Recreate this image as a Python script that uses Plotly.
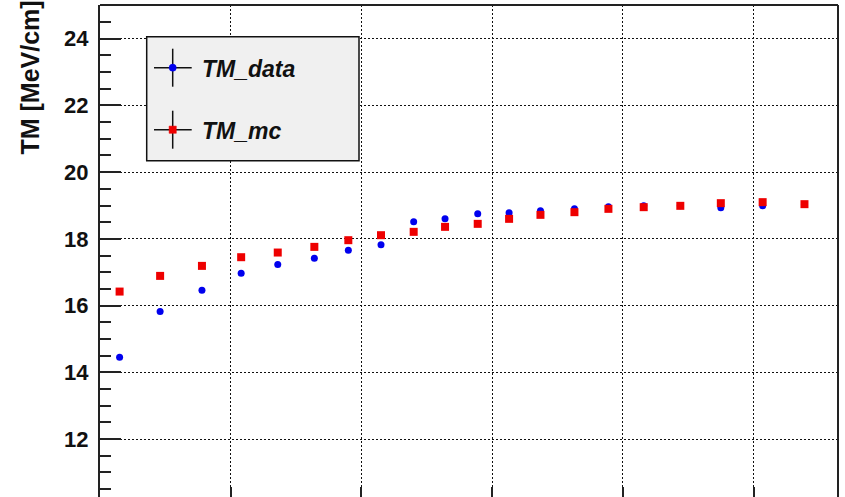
import plotly.graph_objects as go

# x positions (arbitrary units, one grid division = 1)
x_vals = [0.15, 0.46, 0.78, 1.08, 1.36, 1.64, 1.90, 2.15, 2.40, 2.64,
          2.89, 3.13, 3.37, 3.63, 3.89, 4.16, 4.44, 4.75, 5.07, 5.39]
tm_data = [14.45, 15.82, 16.46, 16.97, 17.23, 17.42, 17.66, 17.82, 18.51, 18.60,
           18.75, 18.78, 18.84, 18.90, 18.96, 18.99, 18.99, 18.93, 18.99, 19.03]
tm_mc = [16.42, 16.89, 17.19, 17.45, 17.59, 17.76, 17.96, 18.11, 18.21, 18.36,
         18.45, 18.60, 18.72, 18.80, 18.90, 18.95, 18.99, 19.07, 19.10, 19.04]
y_tick_vals = [12, 14, 16, 18, 20, 22, 24]
y_title = "TM [MeV/cm]"
legend_names = ["TM_data", "TM_mc"]

W, H = 845, 497
L, R, T, B = 100, 7, 5, 0
PW, PH = W - L - R, H - T - B


def px(x):
    return (x - L) / PW


def py(y):
    return (H - B - y) / PH


FONT = "Liberation Sans, Arial, Helvetica, sans-serif"
AXC = "#222222"

fig = go.Figure()
fig.add_trace(go.Scatter(x=x_vals, y=tm_data, mode="markers", name=legend_names[0],
                         marker=dict(symbol="circle", size=7, color="#0000ee"),
                         showlegend=False))
fig.add_trace(go.Scatter(x=x_vals, y=tm_mc, mode="markers", name=legend_names[1],
                         marker=dict(symbol="square", size=8, color="#ee0000"),
                         showlegend=False))

shapes = []
# frame: top and right lines
shapes.append(dict(type="line", xref="paper", yref="paper", x0=0, x1=1, y0=1, y1=1,
                   line=dict(color=AXC, width=2)))
shapes.append(dict(type="line", xref="paper", yref="paper", x0=1, x1=1, y0=0, y1=1,
                   line=dict(color=AXC, width=2)))
# legend box
shapes.append(dict(type="rect", xref="paper", yref="paper",
                   x0=px(146.7), x1=px(359), y0=py(160.7), y1=py(36.7),
                   fillcolor="#f0f0f0", line=dict(color="#111111", width=1.5), layer="above"))
annotations = []
entries = [(67.7, "circle", "#0000ee"), (129.7, "square", "#ee0000")]
for (cy, sym, col), name in zip(entries, legend_names):
    cx = 172.7
    shapes.append(dict(type="line", xref="paper", yref="paper", x0=px(154), x1=px(191.7),
                       y0=py(cy), y1=py(cy), line=dict(color="#111111", width=1.5), layer="above"))
    shapes.append(dict(type="line", xref="paper", yref="paper", x0=px(cx), x1=px(cx),
                       y0=py(cy + 19), y1=py(cy - 19), line=dict(color="#111111", width=1.5),
                       layer="above"))
    r = 3.6
    shapes.append(dict(type="circle" if sym == "circle" else "rect", xref="paper", yref="paper",
                       x0=px(cx - r), x1=px(cx + r), y0=py(cy + r), y1=py(cy - r),
                       fillcolor=col, line=dict(color=col, width=0.5), layer="above"))
    annotations.append(dict(xref="paper", yref="paper", x=px(200), y=py(cy + 1),
                            xanchor="left", yanchor="middle", showarrow=False,
                            text="<b><i>%s</i></b>" % name,
                            font=dict(family=FONT, size=23, color="#111111")))

# y-axis title (top aligned as in ROOT)
annotations.append(dict(xref="paper", yref="paper", x=px(30), y=py(77.5),
                        xanchor="center", yanchor="middle", showarrow=False, textangle=-90,
                        text="<b>%s</b>" % y_title,
                        font=dict(family=FONT, size=25, color="#111111")))
# partially visible "10" label at the cut-off bottom edge
annotations.append(dict(xref="paper", yref="paper", x=0, y=py(506), xanchor="right",
                        yanchor="middle", xshift=-5, showarrow=False, text="<b>10</b>",
                        font=dict(family=FONT, size=22, color="#111111")))

fig.update_layout(
    width=W, height=H,
    margin=dict(l=L, r=R, t=T, b=B, pad=0),
    paper_bgcolor="white", plot_bgcolor="white",
    shapes=shapes, annotations=annotations,
    xaxis=dict(range=[0, PW / 130.7], dtick=1, tick0=0, showticklabels=False,
               showgrid=True, gridcolor="#111111", gridwidth=1, griddash="2px,2px",
               ticks="inside", ticklen=10, tickwidth=2, tickcolor=AXC,
               showline=False, zeroline=False),
    yaxis=dict(range=[24 - (H - B - 38.7) / 33.36, 24 + (38.7 - T) / 33.36],
               tickvals=y_tick_vals, showgrid=True, gridcolor="#111111", gridwidth=1,
               griddash="2px,2px", ticks="inside", ticklen=21, tickwidth=2, tickcolor=AXC,
               minor=dict(dtick=0.5, tick0=0, ticks="inside", ticklen=11, tickwidth=1.5,
                          tickcolor=AXC, showgrid=False),
               showline=True, linecolor=AXC, linewidth=2, zeroline=False,
               tickfont=dict(family=FONT, size=22, color="#111111", weight="bold"),
               ticklabelstandoff=5),
)

fig.write_html("out.html")
